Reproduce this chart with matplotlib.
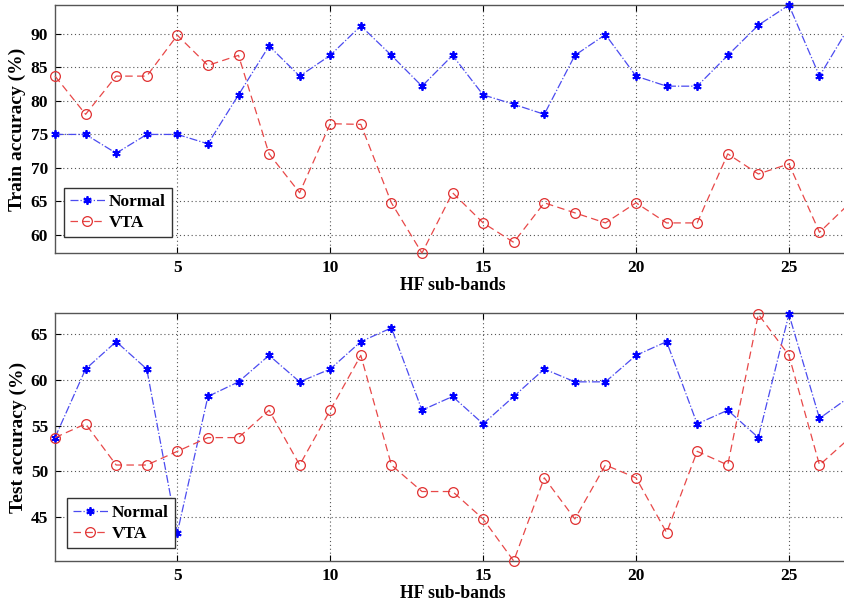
import numpy as np
import matplotlib
matplotlib.use('Agg')
import matplotlib.pyplot as plt

# accuracy per HF sub-band
bands = np.arange(1, 28)

train_normal = [75.0, 75.0, 72.2, 75.0, 75.0, 73.6, 80.9, 88.2, 83.7, 86.8,
                91.2, 86.8, 82.2, 86.8, 80.9, 79.5, 78.0, 86.8, 89.9, 83.7,
                82.2, 82.2, 86.8, 91.3, 94.3, 83.7, 91.3]
train_vta = [83.7, 78.0, 83.7, 83.7, 89.8, 85.3, 86.8, 72.1, 66.3, 76.6,
             76.5, 64.8, 57.3, 66.3, 61.8, 58.9, 64.8, 63.3, 61.8, 64.8,
             61.8, 61.8, 72.1, 69.1, 70.6, 60.4, 64.8]

test_normal = [53.7, 61.2, 64.2, 61.2, 43.3, 58.2, 59.8, 62.7, 59.8, 61.2,
               64.2, 65.7, 56.7, 58.2, 55.2, 58.2, 61.2, 59.8, 59.8, 62.7,
               64.2, 55.2, 56.7, 53.7, 67.2, 55.8, 58.2]
test_vta = [53.7, 55.2, 50.7, 50.7, 52.2, 53.7, 53.7, 56.7, 50.7, 56.7,
            62.7, 50.7, 47.8, 47.8, 44.8, 40.2, 49.3, 44.8, 50.7, 49.3,
            43.3, 52.2, 50.7, 67.2, 62.7, 50.7, 53.7]

plt.rcParams['font.family'] = 'Liberation Serif'
plt.rcParams['font.weight'] = 'bold'

fig = plt.figure(figsize=(8.44, 6.04), dpi=100)
ax1 = fig.add_axes([0.0652, 0.581, 0.942, 0.4106])
ax2 = fig.add_axes([0.0652, 0.0712, 0.942, 0.4101])


def draw(ax, normal, vta, ylabel, ylim, yticks, leg_anchor):
    ax.plot(bands, normal, linestyle='-.', color='#4b4bf0', lw=0.9,
            marker=(6, 2, 0), markersize=6, markeredgewidth=1.3,
            markeredgecolor='blue', label='Normal', clip_on=False, zorder=3)
    ax.plot(bands, vta, linestyle=(0, (6, 3.5)), color='#e84848', lw=0.9,
            marker='o', markersize=7, markerfacecolor='none',
            markeredgecolor='#e03030', markeredgewidth=0.9, label='VTA',
            clip_on=False, zorder=3)
    ax.set_xlim(1, 27)
    ax.set_ylim(*ylim)
    ax.set_xticks([5, 10, 15, 20, 25])
    ax.set_yticks(yticks)
    ax.grid(True, linestyle=(0, (1, 2.5)), color='#555555', lw=0.8)
    ax.tick_params(direction='in', top=True, right=True, length=4,
                   labelsize=12.5, pad=5)
    for sp in ax.spines.values():
        sp.set_color('#555555')
        sp.set_linewidth(1.0)
    ax.set_xlabel('HF sub-bands', fontsize=12.7, fontweight='bold', labelpad=1)
    ax.set_ylabel(ylabel, fontsize=14, fontweight='bold', labelpad=3)
    leg = ax.legend(loc='lower left', bbox_to_anchor=leg_anchor,
                    borderaxespad=0, fancybox=False, framealpha=1,
                    edgecolor='#333333', handlelength=2.0,
                    handletextpad=0.25, borderpad=0.35, labelspacing=0.3,
                    prop={'family': 'Liberation Serif', 'weight': 'bold',
                          'size': 12.5})
    leg.get_frame().set_linewidth(1.0)
    leg.set_zorder(5)


draw(ax1, train_normal, train_vta, 'Train accuracy (%)', (57.3, 94.3),
     [60, 65, 70, 75, 80, 85, 90], (0.011, 0.064))
draw(ax2, test_normal, test_vta, 'Test accuracy (%)', (40.2, 67.3),
     [45, 50, 55, 60, 65], (0.015, 0.052))

fig.savefig('out.png', dpi=100)
